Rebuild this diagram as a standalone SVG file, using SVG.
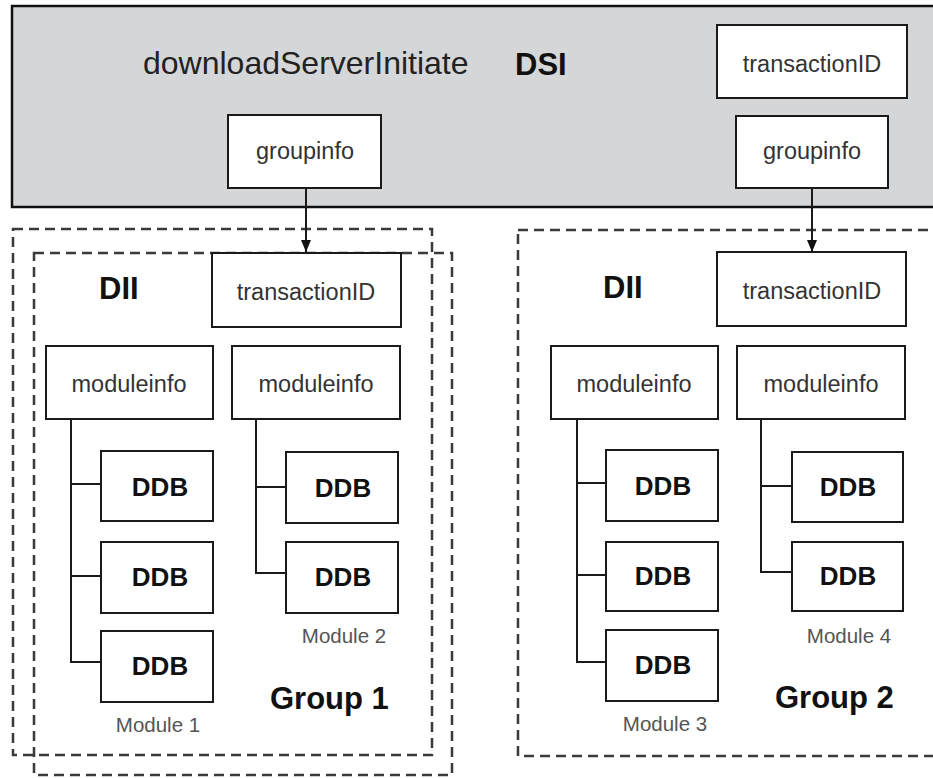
<svg xmlns="http://www.w3.org/2000/svg" width="933" height="778" viewBox="0 0 933 778">
<defs>
<marker id="arr" markerWidth="12" markerHeight="10" refX="12" refY="5" orient="auto" markerUnits="userSpaceOnUse" viewBox="0 0 12 10">
<path d="M0,0 L12,5 L0,10 Z" fill="#111"/>
</marker>
<style>
text{font-family:"Liberation Sans",Arial,Helvetica,sans-serif}
.box{fill:#fff;stroke:#1a1a1a;stroke-width:2}
.lbl{font-size:23.5px;fill:#333;text-anchor:middle}
.ddb{font-size:26px;font-weight:bold;fill:#111;text-anchor:middle}
.big{font-size:31px;font-weight:bold;fill:#111}
.mod{font-size:20.5px;fill:#555;text-anchor:middle}
.dash{fill:none;stroke:#3a3a3a;stroke-width:2.5;stroke-dasharray:10 6}
.ln{fill:none;stroke:#1a1a1a;stroke-width:2}
</style>
</defs>
<rect width="933" height="778" fill="#fff"/>

<g id="dsi">
<rect x="12" y="6" width="930" height="201" fill="#d5d6d8" stroke="#111" stroke-width="2.5"/>
<text x="143" y="74" font-size="32" fill="#222">downloadServerInitiate</text>
<text x="515" y="75" class="big">DSI</text>
</g>
<g id="dsi-transactionID"><rect class="box" x="717" y="25" width="190" height="73"/><text class="lbl" x="812" y="72">transactionID</text></g>
<g id="dsi-groupinfo1"><rect class="box" x="228" y="115" width="153" height="73"/><text class="lbl" x="305" y="159">groupinfo</text></g>
<g id="dsi-groupinfo2"><rect class="box" x="736" y="116" width="152" height="72"/><text class="lbl" x="812" y="159">groupinfo</text></g>

<g id="group1">
<rect class="dash" x="13" y="229" width="419" height="526"/>
<rect class="dash" x="34" y="253" width="418" height="522"/>
<text x="99" y="299" class="big">DII</text>
<text x="270" y="709" class="big">Group 1</text>
<text class="mod" x="158" y="732">Module 1</text>
<text class="mod" x="344" y="643">Module 2</text>
</g>
<g id="g1-transactionID"><rect class="box" x="212" y="253" width="189" height="74"/><text class="lbl" x="306" y="300">transactionID</text></g>
<g id="g1-moduleinfo1"><rect class="box" x="46" y="346" width="167" height="73"/><text class="lbl" x="129" y="392">moduleinfo</text></g>
<g id="g1-moduleinfo2"><rect class="box" x="232" y="346" width="168" height="73"/><text class="lbl" x="316" y="392">moduleinfo</text></g>
<g id="g1-ddb1"><rect class="box" x="101" y="451" width="112" height="70"/><text class="ddb" x="160" y="496">DDB</text></g>
<g id="g1-ddb2"><rect class="box" x="101" y="542" width="112" height="71"/><text class="ddb" x="160" y="586">DDB</text></g>
<g id="g1-ddb3"><rect class="box" x="101" y="631" width="112" height="71"/><text class="ddb" x="160" y="675">DDB</text></g>
<g id="g1-ddb4"><rect class="box" x="286" y="452" width="112" height="71"/><text class="ddb" x="343" y="497">DDB</text></g>
<g id="g1-ddb5"><rect class="box" x="286" y="542" width="112" height="71"/><text class="ddb" x="343" y="586">DDB</text></g>

<g id="group2">
<rect class="dash" x="518" y="230" width="425" height="526"/>
<text x="603" y="298" class="big">DII</text>
<text x="775" y="708" class="big">Group 2</text>
<text class="mod" x="665" y="731">Module 3</text>
<text class="mod" x="849" y="643">Module 4</text>
</g>
<g id="g2-transactionID"><rect class="box" x="717" y="252" width="189" height="74"/><text class="lbl" x="812" y="299">transactionID</text></g>
<g id="g2-moduleinfo1"><rect class="box" x="551" y="346" width="167" height="73"/><text class="lbl" x="634" y="392">moduleinfo</text></g>
<g id="g2-moduleinfo2"><rect class="box" x="737" y="346" width="168" height="73"/><text class="lbl" x="821" y="392">moduleinfo</text></g>
<g id="g2-ddb1"><rect class="box" x="606" y="450" width="112" height="71"/><text class="ddb" x="663" y="495">DDB</text></g>
<g id="g2-ddb2"><rect class="box" x="606" y="542" width="112" height="69"/><text class="ddb" x="663" y="585">DDB</text></g>
<g id="g2-ddb3"><rect class="box" x="606" y="630" width="112" height="71"/><text class="ddb" x="663" y="674">DDB</text></g>
<g id="g2-ddb4"><rect class="box" x="792" y="452" width="111" height="70"/><text class="ddb" x="848" y="496">DDB</text></g>
<g id="g2-ddb5"><rect class="box" x="792" y="542" width="111" height="69"/><text class="ddb" x="848" y="585">DDB</text></g>

<g id="connectors">
<line class="ln" x1="306" y1="188" x2="306" y2="252" marker-end="url(#arr)"/>
<line class="ln" x1="812" y1="188" x2="812" y2="252" marker-end="url(#arr)"/>
<path class="ln" d="M71,419 V662 H101 M71,484 H101 M71,576 H101"/>
<path class="ln" d="M256,419 V573 H286 M256,487 H286"/>
<path class="ln" d="M577,419 V662 H606 M577,483 H606 M577,575 H606"/>
<path class="ln" d="M761,419 V572 H792 M761,486 H792"/>
</g>
</svg>
